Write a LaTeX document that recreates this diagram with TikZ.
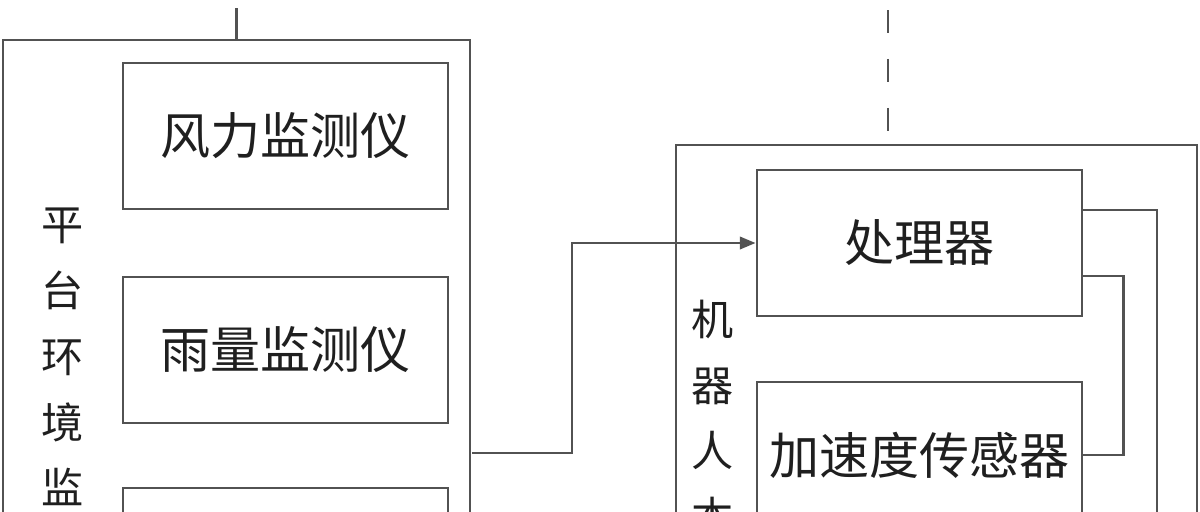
\documentclass[tikz,border=0pt]{standalone}
\usepackage{fontspec}
\setmainfont{Noto Sans CJK SC}
\usetikzlibrary{arrows.meta,calc}
\definecolor{linegray}{rgb}{0.32,0.32,0.32}
\definecolor{textgray}{rgb}{0.12,0.12,0.12}

\begin{document}
\begin{tikzpicture}[x=0.02cm,y=-0.02cm,line width=1.6pt,
  frame/.style={draw=linegray,inner sep=0pt},
  unit/.style={draw=linegray,inner sep=0pt,minimum width=6.5cm,minimum height=2.92cm,
    text=textgray,font=\fontsize{28.5}{34}\selectfont},
  tag/.style={align=center,inner sep=0pt,text=textgray,font=\fontsize{24}{37.5}\selectfont}]

\clip (0,0) rectangle (1200,511);

% outer frames
\node [frame,minimum width=9.34cm,minimum height=13.2cm] (envframe) at (236.5,370) {};
\node [frame,minimum width=10.42cm,minimum height=12cm] (robotframe) at (936.5,445) {};

% boxes
\node [unit] (wind) at (285.5,136) {风力监测仪};
\node [unit] (rain) at (285.5,350) {雨量监测仪};
\node [unit] (third) at (285.5,561) {};
\node [unit] (proc) at (919.5,243) {处理器};
\node [unit] (accel) at (919.5,455) {加速度传感器};

\node [tag] (envtag) at (63,357) {平\\台\\环\\境\\监};
\node [tag] (robottag) at (713,418) {机\\器\\人\\本};

% links
\coordinate (envup) at (236.5,8);
\coordinate (robotup) at (888,10);
\coordinate (envout) at (472,453);
\coordinate (robotdown) at (1157,600);
\draw [linegray] (envup) -- (envframe.north);
\draw [linegray,dash pattern=on 0.46cm off 0.52cm] (robotup) -- (robotup |- robotframe.north);
\draw [linegray,-{Triangle[length=9pt,width=7pt]}] (envout) -- ++(100,0) |- (proc.west);
\draw [linegray] ($(proc.east)+(0,33)$) -- ++(40,0) |- (accel.east);
\draw [linegray] ($(proc.east)+(0,-33)$) -| (robotdown);
\end{tikzpicture}
\end{document}
